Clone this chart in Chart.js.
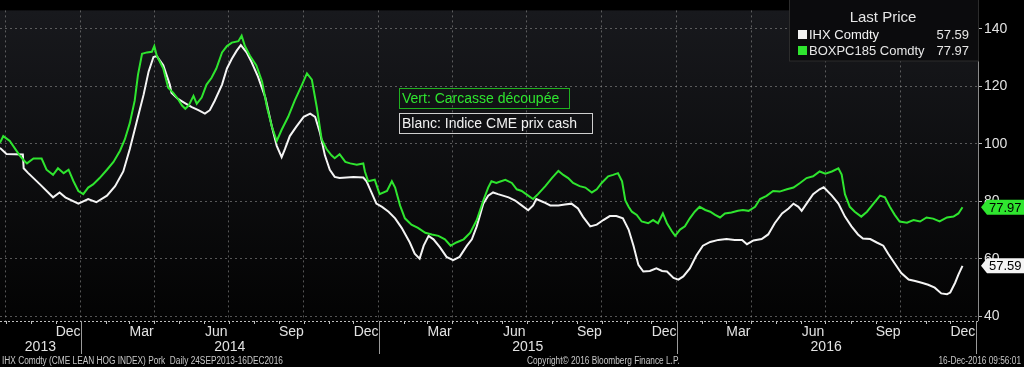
<!DOCTYPE html>
<html>
<head>
<title>IHX vs BOXPC185</title>
<script src="https://cdn.jsdelivr.net/npm/chart.js"></script>
<style>
  html, body { margin: 0; padding: 0; background: #000; }
  #wrap { width: 1024px; height: 367px; }
</style>
</head>
<body>
<div id="wrap"><canvas id="hogChart" width="1024" height="367"></canvas></div>
<script>
// x values are days counted from 24 Sep 2013 (first day of the chart)
const ihxDays = [0, 8, 28, 29, 34, 49, 65, 73, 80, 96, 108, 118, 131, 141, 151, 159, 167, 176, 182, 188,
  192, 200, 208, 210, 218, 227, 235, 243, 251, 257, 263, 272, 278, 284, 290, 295, 302, 308, 316, 325,
  333, 339, 345, 349, 355, 363, 372, 380, 386, 392, 398, 404, 410, 416, 433, 445, 449, 455, 461, 468,
  476, 484, 492, 502, 508, 514, 519, 525, 531, 539, 547, 555, 563, 572, 578, 584, 592, 598, 604, 610,
  623, 631, 639, 647, 653, 657, 666, 674, 684, 692, 700, 708, 714, 723, 731, 739, 747, 755, 763, 770,
  776, 782, 788, 796, 804, 811, 817, 825, 831, 837, 845, 853, 861, 870, 880, 890, 900, 909, 915, 923,
  933, 941, 949, 958, 966, 972, 978, 982, 988, 996, 1004, 1009, 1019, 1027, 1035, 1043, 1051, 1057, 1066, 1074,
  1082, 1088, 1096, 1104, 1113, 1121, 1129, 1137, 1145, 1153, 1160, 1164, 1170, 1174, 1179];
const ihxValues = [98.6, 96.5, 96.3, 91.5, 90.0, 85.9, 81.4, 83.1, 81.4, 79.2, 80.8, 79.7, 82.0, 85.3, 90.4, 98.2, 107.2, 117.2, 125.1, 130.2,
  130.5, 127.3, 120.6, 117.8, 115.6, 114.1, 112.8, 111.7, 110.5, 111.7, 115.0, 120.6, 126.2, 129.6, 132.4, 134.3, 131.8, 128.5, 123.4, 116.1,
  106.0, 99.3, 95.4, 98.2, 102.7, 106.0, 109.4, 110.5, 109.4, 103.8, 96.0, 91.0, 88.5, 88.1, 88.5, 88.3, 87.0, 83.1, 79.2, 78.1,
  76.4, 74.1, 70.8, 65.7, 61.8, 60.1, 64.6, 68.0, 66.8, 64.0, 60.7, 59.6, 60.7, 64.6, 66.8, 71.3, 79.2, 82.0, 83.1, 82.5,
  81.4, 80.3, 78.6, 76.9, 78.6, 80.8, 79.7, 78.6, 78.6, 78.9, 79.2, 77.5, 74.7, 71.3, 71.9, 73.5, 74.9, 74.9, 74.1, 70.2,
  64.6, 57.9, 55.6, 55.8, 56.7, 55.8, 55.6, 53.4, 52.8, 53.9, 56.7, 61.2, 64.6, 65.9, 66.6, 66.9, 66.6, 66.6, 65.1, 66.4,
  66.9, 68.5, 72.4, 75.8, 77.5, 79.2, 78.1, 76.7, 79.2, 82.5, 84.2, 84.9, 82.0, 79.2, 74.7, 71.3, 68.5, 67.1, 66.9, 65.7,
  64.6, 61.8, 58.4, 55.1, 52.8, 52.3, 51.7, 51.0, 50.0, 48.0, 47.7, 48.3, 51.7, 54.5, 57.59];

const boxDays = [0, 4, 12, 24, 29, 33, 41, 51, 57, 65, 71, 78, 84, 90, 96, 102, 108, 114, 122, 131,
  139, 147, 153, 159, 165, 169, 174, 180, 186, 189, 192, 200, 206, 212, 218, 223, 227, 231, 237, 241,
  247, 253, 259, 265, 272, 278, 284, 292, 296, 300, 306, 314, 321, 327, 333, 339, 345, 353, 361, 370,
  376, 382, 388, 394, 400, 406, 410, 416, 423, 429, 437, 445, 447, 451, 459, 465, 474, 480, 484, 490,
  496, 504, 512, 521, 529, 537, 545, 552, 559, 568, 576, 584, 592, 598, 602, 608, 612, 619, 627, 633,
  639, 647, 653, 659, 668, 676, 684, 690, 696, 702, 710, 717, 725, 731, 737, 745, 751, 757, 762, 766,
  770, 774, 780, 786, 794, 800, 806, 812, 817, 823, 827, 833, 839, 845, 851, 857, 864, 870, 876, 882,
  888, 896, 904, 910, 917, 925, 931, 939, 947, 955, 964, 972, 980, 988, 996, 1004, 1011, 1019, 1027, 1031,
  1035, 1041, 1047, 1055, 1062, 1070, 1078, 1084, 1090, 1096, 1102, 1111, 1119, 1127, 1135, 1143, 1151, 1160, 1168, 1174, 1179];
const boxValues = [100.4, 102.7, 101.0, 96.0, 94.3, 93.2, 94.9, 94.9, 91.0, 89.2, 91.5, 89.8, 91.0, 87.0, 83.6, 82.5, 84.8, 85.9, 88.1, 91.0,
  93.7, 97.6, 101.6, 107.2, 115.0, 124.0, 131.3, 131.8, 132.0, 134.0, 130.7, 126.2, 119.5, 117.8, 115.6, 113.3, 112.2, 113.3, 116.7, 113.9,
  116.1, 120.6, 122.9, 126.2, 131.8, 134.0, 135.2, 135.7, 137.6, 134.0, 130.7, 127.3, 121.7, 112.8, 106.0, 101.0, 104.9, 109.4, 115.0, 120.6,
  124.5, 122.3, 112.8, 101.6, 98.2, 96.0, 95.0, 96.4, 93.7, 93.2, 92.7, 93.2, 90.4, 87.0, 87.5, 82.5, 83.6, 87.0, 84.8, 78.6,
  74.1, 71.9, 70.8, 69.1, 68.5, 68.0, 66.8, 64.6, 65.7, 66.8, 69.1, 73.5, 80.3, 84.8, 87.0, 86.4, 86.8, 87.5, 86.4, 84.2,
  83.6, 82.0, 80.8, 82.5, 85.3, 88.1, 90.6, 89.2, 88.1, 86.4, 85.3, 84.8, 83.1, 84.2, 86.4, 88.7, 89.2, 89.8, 87.0, 80.3,
  78.1, 76.4, 75.3, 73.0, 72.4, 73.5, 72.4, 75.8, 72.4, 69.6, 68.0, 70.2, 71.3, 74.1, 76.4, 78.1, 77.0, 76.4, 75.3, 74.4,
  75.8, 76.1, 76.7, 77.0, 76.7, 78.1, 80.8, 81.9, 83.6, 83.4, 84.2, 84.8, 86.4, 88.1, 88.7, 90.4, 89.6, 90.4, 91.5, 89.3,
  82.5, 78.1, 76.4, 74.7, 76.4, 79.2, 82.0, 81.4, 78.1, 75.3, 73.0, 72.6, 73.5, 73.0, 74.4, 74.0, 73.0, 74.4, 74.7, 75.8, 77.97];

const yTicks = [40, 60, 80, 100, 120, 140];
const monthNames = ['Jan', 'Feb', 'Mar', 'Apr', 'May', 'Jun', 'Jul', 'Aug', 'Sep', 'Oct', 'Nov', 'Dec'];
const labelMonths = [2, 5, 8, 11];   // Mar Jun Sep Dec
const years = [2013, 2014, 2015, 2016];

const START = Date.UTC(2013, 8, 24);
const X_MAX = 1198;
function dayOf(y, m, d) { return (Date.UTC(y, m, d) - START) / 86400000; }

const quarterDays = [];
for (const y of years) for (const m of [0, 3, 6, 9]) {
  const d = dayOf(y, m, 1);
  if (d > 0 && d < X_MAX) quarterDays.push(d);
}

const FONT = '"Liberation Sans", Arial, sans-serif';
const GREEN = '#2fe52f';

// narrow footer text (Bloomberg uses a condensed face)
function narrowText(ctx, text, x, y, align) {
  ctx.save();
  ctx.translate(x, y);
  ctx.scale(0.83, 1);
  ctx.textAlign = align;
  ctx.fillText(text, 0, 0);
  ctx.restore();
}

const bbgPlugin = {
  id: 'bbg',
  beforeDraw(chart) {
    const { ctx, chartArea: a, width, height } = chart;
    ctx.save();
    ctx.fillStyle = '#000';
    ctx.fillRect(0, 0, width, height);
    const g = ctx.createLinearGradient(0, a.top, 0, a.bottom);
    g.addColorStop(0, '#18191d');
    g.addColorStop(1, '#030303');
    ctx.fillStyle = g;
    ctx.fillRect(a.left, a.top, a.right - a.left, a.bottom - a.top);
    ctx.restore();
  },
  afterDraw(chart) {
    const { ctx, chartArea: a } = chart;
    const xs = chart.scales.x, ys = chart.scales.y;
    ctx.save();

    // axis lines
    ctx.strokeStyle = '#8a8a8a';
    ctx.lineWidth = 1;
    ctx.beginPath();
    ctx.moveTo(a.right + 0.5, a.top);
    ctx.lineTo(a.right + 0.5, a.bottom);
    ctx.stroke();
    ctx.setLineDash([2, 2]);
    ctx.strokeStyle = '#bdbdbd';
    ctx.beginPath();
    ctx.moveTo(a.left, a.bottom + 0.5);
    ctx.lineTo(a.right, a.bottom + 0.5);
    ctx.stroke();
    ctx.setLineDash([]);

    // month ticks
    ctx.strokeStyle = '#bdbdbd';
    for (const y of years) for (let m = 0; m < 12; m++) {
      const d = dayOf(y, m, 1);
      if (d <= 0 || d >= X_MAX) continue;
      const px = Math.round(xs.getPixelForValue(d)) + 0.5;
      ctx.beginPath();
      ctx.moveTo(px, a.bottom);
      ctx.lineTo(px, a.bottom + 3);
      ctx.stroke();
    }

    // month labels
    ctx.fillStyle = '#e2e2e2';
    ctx.font = '14px ' + FONT;
    ctx.textAlign = 'center';
    ctx.textBaseline = 'middle';
    for (const y of years) for (const m of labelMonths) {
      const first = dayOf(y, m, 1), next = dayOf(y, m + 1, 1);
      if (first < 0 || first > X_MAX) continue;
      const mid = (first + next) / 2;
      ctx.fillText(monthNames[m], xs.getPixelForValue(mid), a.bottom + 11);
    }

    // year labels and separators
    ctx.strokeStyle = '#9a9a9a';
    for (const y of years) {
      const s = Math.max(0, dayOf(y, 0, 1)), e = dayOf(y + 1, 0, 1);
      ctx.fillText(String(y), xs.getPixelForValue((s + e) / 2), a.bottom + 26);
      const px = Math.round(xs.getPixelForValue(e)) + 0.5;
      ctx.beginPath();
      ctx.moveTo(px, a.bottom);
      ctx.lineTo(px, a.bottom + 33);
      ctx.stroke();
    }

    // footer
    ctx.font = '10px ' + FONT;
    ctx.fillStyle = '#c8c8c8';
    narrowText(ctx, 'IHX Comdty (CME LEAN HOG INDEX) Pork  Daily 24SEP2013-16DEC2016', 2, 361, 'left');
    narrowText(ctx, 'Copyright\u00a9 2016 Bloomberg Finance L.P.', 527, 361, 'left');
    narrowText(ctx, '16-Dec-2016 09:56:01', 1021, 361, 'right');

    // legend box
    ctx.fillStyle = '#0b0b0d';
    ctx.fillRect(789, 0, a.right - 789, 61);
    ctx.strokeStyle = '#2c2c2c';
    ctx.strokeRect(789.5, -1, a.right - 789, 62);
    ctx.font = '15px ' + FONT;
    ctx.fillStyle = '#e6e6e6';
    ctx.textAlign = 'center';
    ctx.fillText('Last Price', 883, 18);
    ctx.font = '13px ' + FONT;
    ctx.textAlign = 'left';
    ctx.fillStyle = '#f2f2f2';
    ctx.fillRect(798, 30, 9, 9);
    ctx.fillText('IHX Comdty', 809, 35);
    ctx.fillStyle = GREEN;
    ctx.fillRect(798, 46, 9, 9);
    ctx.fillStyle = '#e6e6e6';
    ctx.fillText('BOXPC185 Comdty', 809, 51);
    ctx.textAlign = 'right';
    ctx.fillText(ihxValues[ihxValues.length - 1].toFixed(2), 969, 35);
    ctx.fillText(boxValues[boxValues.length - 1].toFixed(2), 969, 51);

    // annotations
    ctx.font = '14px ' + FONT;
    ctx.textAlign = 'left';
    ctx.strokeStyle = '#20b020';
    ctx.strokeRect(399.5, 88.5, 170, 20);
    ctx.fillStyle = GREEN;
    ctx.fillText('Vert: Carcasse d\u00e9coup\u00e9e', 402, 99);
    ctx.strokeStyle = '#cfcfcf';
    ctx.strokeRect(399.5, 113.5, 193, 20);
    ctx.fillStyle = '#f2f2f2';
    ctx.fillText('Blanc: Indice CME prix cash', 402, 124);

    // last value tags
    const tag = (val, fill) => {
      const y = ys.getPixelForValue(val), x = a.right + 3, h = 15;
      ctx.beginPath();
      ctx.moveTo(x, y);
      ctx.lineTo(x + 6, y - h / 2);
      ctx.lineTo(1024, y - h / 2);
      ctx.lineTo(1024, y + h / 2);
      ctx.lineTo(x + 6, y + h / 2);
      ctx.closePath();
      ctx.fillStyle = fill;
      ctx.fill();
      ctx.fillStyle = '#000';
      ctx.font = '13px ' + FONT;
      ctx.textAlign = 'left';
      ctx.fillText(val.toFixed(2), x + 8, y + 1);
    };
    tag(boxValues[boxValues.length - 1], GREEN);
    tag(ihxValues[ihxValues.length - 1], '#f4f4f4');

    ctx.restore();
  }
};

new Chart(document.getElementById('hogChart'), {
  type: 'line',
  data: {
    datasets: [
      {
        label: 'BOXPC185 Comdty',
        data: boxDays.map((d, i) => ({ x: d, y: boxValues[i] })),
        borderColor: GREEN,
        borderWidth: 2,
        pointRadius: 0,
        fill: false
      },
      {
        label: 'IHX Comdty',
        data: ihxDays.map((d, i) => ({ x: d, y: ihxValues[i] })),
        borderColor: '#f4f4f4',
        borderWidth: 2,
        pointRadius: 0,
        fill: false
      }
    ]
  },
  options: {
    responsive: false,
    animation: false,
    layout: { padding: 0 },
    plugins: { legend: { display: false }, tooltip: { enabled: false } },
    elements: { line: { tension: 0 } },
    scales: {
      x: {
        type: 'linear',
        min: 0,
        max: X_MAX,
        afterBuildTicks: s => { s.ticks = quarterDays.map(v => ({ value: v })); },
        afterFit: s => { s.height = 46; },
        ticks: { display: false },
        grid: { color: 'rgba(140,140,140,0.6)', drawTicks: false },
        border: { display: false, dash: [2, 3] }
      },
      y: {
        position: 'right',
        min: 38.4,
        max: 146.4,
        afterBuildTicks: s => { s.ticks = yTicks.map(v => ({ value: v })); },
        afterFit: s => { s.width = 46; },
        ticks: { color: '#e2e2e2', font: { size: 14, family: FONT }, padding: 2 },
        grid: { color: 'rgba(140,140,140,0.6)', tickLength: 4, tickColor: '#bbb' },
        border: { display: false, dash: [2, 3] }
      }
    }
  },
  plugins: [bbgPlugin]
});
</script>
</body>
</html>
